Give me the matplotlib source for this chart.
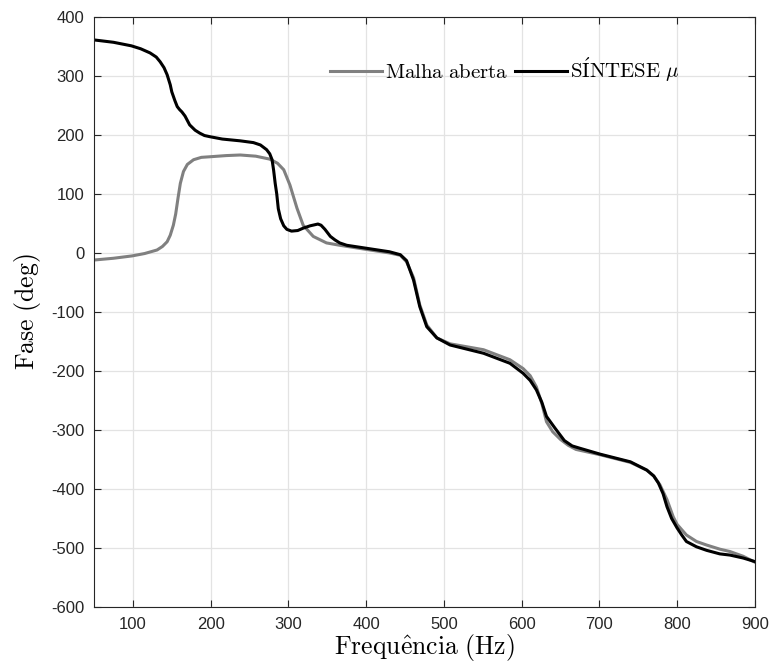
import matplotlib.pyplot as plt

# Open loop phase
freq_ma = [50, 75, 99, 115, 131, 138, 144, 148, 152, 155, 158, 161, 165, 170, 178, 188,
           199, 220, 238, 258, 276, 286, 294, 302, 311, 319, 332, 349, 366, 400, 430,
           444, 452, 461, 469, 478, 491, 508, 551, 585, 602, 611, 619, 626, 632, 640,
           650, 660, 670, 701, 740, 761, 770, 778, 787, 795, 800, 812, 825, 838, 855,
           868, 885, 900]
fase_ma = [-12, -9, -5, -1, 5, 11, 19, 30, 47, 66, 93, 118, 138, 150, 158, 162,
           163, 165, 166, 164, 159, 152, 141, 115, 76, 47, 28, 17, 13, 6, 0,
           -4, -15, -42, -88, -122, -144, -154, -164, -181, -196, -208, -227, -255, -286, -303,
           -316, -326, -333, -342, -355, -368, -378, -393, -418, -447, -460, -478, -489, -495, -502,
           -506, -514, -524]

# SINTESE mu phase
freq_mu = [50, 75, 98, 110, 122, 130, 135, 140, 144, 148, 150, 154, 157, 160, 163, 167,
           173, 180, 186, 192, 199, 215, 238, 255, 264, 272, 276, 279, 281, 283, 285,
           287, 290, 294, 298, 304, 312, 319, 328, 338, 342, 347, 354, 360, 366, 375,
           400, 430, 444, 452, 461, 469, 478, 491, 508, 551, 585, 602, 611, 619, 626,
           632, 643, 655, 665, 675, 701, 740, 761, 770, 776, 782, 787, 793, 800, 806,
           812, 825, 838, 855, 868, 885, 900]
fase_mu = [361, 357, 351, 346, 339, 332, 324, 314, 302, 285, 273, 258, 248, 243, 239, 232,
           217, 208, 203, 199, 197, 193, 190, 187, 183, 175, 168, 158, 140, 118, 100,
           75, 58, 46, 40, 37, 38, 42, 46, 49, 47, 40, 28, 22, 17, 13,
           8, 2, -3, -13, -46, -91, -125, -144, -156, -170, -187, -204, -216, -232, -253,
           -277, -297, -318, -327, -331, -341, -354, -368, -378, -390, -408, -430, -450, -466, -478,
           -489, -498, -504, -510, -512, -517, -523]

xticks = list(range(100, 1000, 100))
yticks = list(range(-600, 500, 100))

plt.rcParams['font.family'] = ['Liberation Sans', 'DejaVu Sans']
plt.rcParams['mathtext.fontset'] = 'cm'
plt.rcParams['axes.unicode_minus'] = False

fig = plt.figure(figsize=(7.71, 6.66), dpi=100)
ax = fig.add_axes([0.122, 0.0886, 0.857, 0.886])

ax.plot(freq_ma, fase_ma, color='#808080', linewidth=2.2, label=r'$\mathrm{Malha\ aberta}$')
ax.plot(freq_mu, fase_mu, color='black', linewidth=2.2, label=r'$\mathrm{S\acute{I}NTESE}\ \mu$')

ax.set_xlim(50, 900)
ax.set_ylim(-600, 400)
ax.set_xticks(xticks)
ax.set_yticks(yticks)
ax.grid(True, color='#e3e3e3', linewidth=0.9)
ax.set_axisbelow(True)
ax.tick_params(direction='in', top=True, right=True, labelsize=12,
               colors='#262626', length=5, width=0.8)
ax.tick_params(axis='y', pad=7)
ax.tick_params(axis='x', pad=7)
for s in ax.spines.values():
    s.set_color('#262626')
    s.set_linewidth(0.8)

ax.set_xlabel(r'$\mathrm{Frequ\hat{e}ncia\ (Hz)}$', fontsize=18.5, labelpad=0)
ax.set_ylabel(r'$\mathrm{Fase\ (deg)}$', fontsize=18.5, labelpad=6)

ax.legend(ncol=2, loc='center', bbox_to_anchor=(0.622, 0.91), frameon=False,
          handlelength=2.5, handletextpad=0.15, columnspacing=0.3, fontsize=15)

fig.savefig('out.png', dpi=100)
